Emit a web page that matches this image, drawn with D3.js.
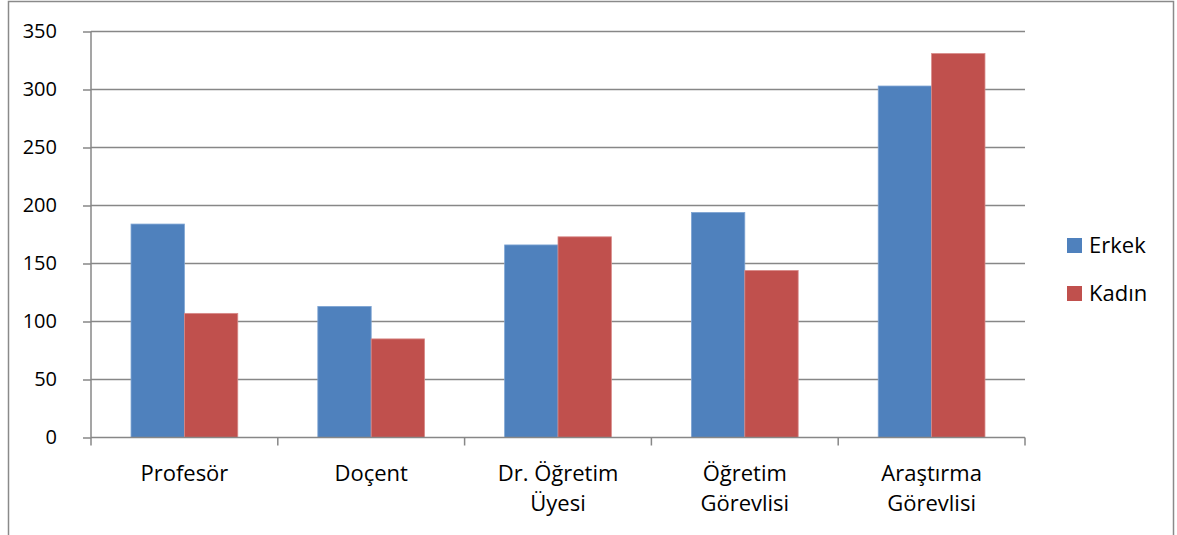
<!DOCTYPE html>
<html>
<head>
<meta charset="utf-8">
<script src="https://cdn.jsdelivr.net/npm/d3@7"></script>
<style>
  body { margin: 0; background: #fff; }
  svg { display: block; font-family: "Open Sans", sans-serif; }
</style>
</head>
<body>
<svg id="chart"></svg>
<script>
// Chart data
const categories = [["Profesör"], ["Doçent"], ["Dr. Öğretim", "Üyesi"], ["Öğretim", "Görevlisi"], ["Araştırma", "Görevlisi"]];
const seriesNames = ["Erkek", "Kadın"];
const erkek = [184, 113, 166, 194, 303];
const kadin = [107, 85, 173, 144, 331];
const yTicks = [0, 50, 100, 150, 200, 250, 300, 350];

const width = 1177;
const height = 535;
const colors = ["#4f81bd", "#c0504d"];
const gridColor = "#878787";

// plot area
const plot = { left: 91, right: 1025, top: 31.5, bottom: 437.5 };

const svg = d3.select("#chart")
    .attr("width", width)
    .attr("height", height);

// outer chart border (bottom is off-page)
svg.append("rect")
    .attr("x", 8.5).attr("y", 1.5)
    .attr("width", 1165).attr("height", 560)
    .attr("fill", "none")
    .attr("stroke", "#8a8a8a")
    .attr("stroke-width", 1.5);

const x0 = d3.scaleBand()
    .domain(d3.range(categories.length))
    .range([plot.left, plot.right])
    .paddingInner(0)
    .paddingOuter(0);

const x1 = d3.scaleBand()
    .domain(seriesNames)
    .range([0, x0.bandwidth()])
    .paddingOuter(0.75)
    .paddingInner(0);

const y = d3.scaleLinear()
    .domain([0, 350])
    .range([plot.bottom, plot.top]);

// horizontal gridlines
svg.append("g")
    .selectAll("line")
    .data(yTicks.filter(d => d > 0))
    .join("line")
    .attr("x1", plot.left).attr("x2", plot.right)
    .attr("y1", d => y(d)).attr("y2", d => y(d))
    .attr("stroke", gridColor)
    .attr("stroke-width", 1.5);

// bars
const rows = categories.map((c, i) => ({ i, values: [erkek[i], kadin[i]] }));
const groups = svg.append("g")
    .selectAll("g")
    .data(rows)
    .join("g")
    .attr("transform", d => `translate(${x0(d.i)},0)`);

groups.selectAll("rect")
    .data(d => d.values.map((v, k) => ({ name: seriesNames[k], value: v, k })))
    .join("rect")
    .attr("x", d => x1(d.name))
    .attr("width", x1.bandwidth())
    .attr("y", d => y(d.value))
    .attr("height", d => plot.bottom - y(d.value))
    .attr("fill", d => colors[d.k])
    .attr("stroke", d => d.k === 0 ? "#7ea4d3" : "#d88a88")
    .attr("stroke-width", 0.8);

// y axis
const yAxis = svg.append("g")
    .attr("transform", `translate(${plot.left},0)`)
    .call(d3.axisLeft(y).tickValues(yTicks).tickSize(8).tickPadding(26).tickFormat(d3.format("d")));
yAxis.select(".domain").attr("stroke", gridColor).attr("stroke-width", 1.5)
    .attr("d", `M0,${plot.top}V${plot.bottom}`);
yAxis.selectAll(".tick line").attr("stroke", gridColor).attr("stroke-width", 1.5);
yAxis.selectAll(".tick text")
    .attr("fill", "#000")
    .attr("font-size", 20)
    .attr("font-family", "Open Sans, sans-serif");

// x axis
const xTickPos = d3.range(categories.length + 1).map(i => plot.left + i * x0.step());
svg.append("line")
    .attr("x1", plot.left).attr("x2", plot.right)
    .attr("y1", plot.bottom).attr("y2", plot.bottom)
    .attr("stroke", gridColor).attr("stroke-width", 1.5);
svg.append("g")
    .selectAll("line")
    .data(xTickPos)
    .join("line")
    .attr("x1", d => d).attr("x2", d => d)
    .attr("y1", plot.bottom).attr("y2", plot.bottom + 8)
    .attr("stroke", gridColor).attr("stroke-width", 1.5);

// category labels
const labels = svg.append("g")
    .selectAll("text")
    .data(categories)
    .join("text")
    .attr("x", (d, i) => x0(i) + x0.bandwidth() / 2)
    .attr("y", 481)
    .attr("text-anchor", "middle")
    .attr("font-size", 22)
    .attr("fill", "#000");
labels.selectAll("tspan")
    .data((d, i) => d.map(line => ({ line, i })))
    .join("tspan")
    .attr("x", d => x0(d.i) + x0.bandwidth() / 2)
    .attr("dy", (d, j) => j === 0 ? 0 : 30)
    .text(d => d.line);

// legend
const legend = svg.append("g")
    .selectAll("g")
    .data(seriesNames)
    .join("g")
    .attr("transform", (d, i) => `translate(1067,${238 + i * 48})`);
legend.append("rect")
    .attr("width", 15).attr("height", 15)
    .attr("fill", (d, i) => colors[i]);
legend.append("text")
    .attr("x", 22)
    .attr("y", 7.5)
    .attr("dy", ".35em")
    .attr("font-size", 22)
    .attr("fill", "#000")
    .text(d => d);
</script>
</body>
</html>
